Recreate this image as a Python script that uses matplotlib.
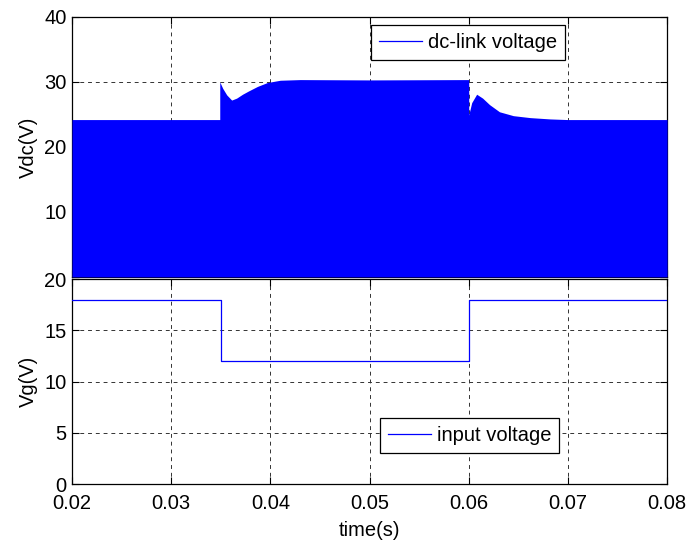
import matplotlib
matplotlib.use("Agg")
import matplotlib.pyplot as plt
from matplotlib.lines import Line2D

plt.rcParams['font.family'] = ['Liberation Sans', 'DejaVu Sans']
plt.rcParams['font.size'] = 14.5

# Upper envelope of the switching dc-link voltage (s, V)
t_dc = [0.02, 0.0349, 0.0349, 0.0352, 0.0356, 0.0361, 0.0366, 0.0372, 0.0378,
        0.0387, 0.0397, 0.041, 0.043, 0.05, 0.06, 0.06, 0.0603, 0.0608,
        0.0614, 0.0621, 0.0631, 0.0645, 0.0662, 0.0682, 0.07, 0.08]
v_dc = [24.2, 24.2, 30.0, 29.0, 28.0, 27.2, 27.5, 28.1, 28.6,
        29.3, 29.9, 30.25, 30.35, 30.3, 30.35, 24.9, 26.8, 28.1,
        27.5, 26.5, 25.4, 24.8, 24.5, 24.3, 24.2, 24.2]

# Input voltage steps (s, V)
t_in = [0.02, 0.035, 0.035, 0.06, 0.06, 0.08]
v_in = [18, 18, 12, 12, 18, 18]

dc_ticks = [0, 10, 20, 30, 40]
in_ticks = [0, 5, 10, 15, 20]
x_ticks = [0.02, 0.03, 0.04, 0.05, 0.06, 0.07, 0.08]
x_labels = ['0.02', '0.03', '0.04', '0.05', '0.06', '0.07', '0.08']

blue = '#0000ff'
grid_kw = dict(color='#333333', linestyle=(0, (4, 4)), linewidth=0.7)
fs = 14.5

fig = plt.figure(figsize=(6.92, 5.44), dpi=100)
L, W = 0.104, 0.860
ax1 = fig.add_axes([L, 0.491, W, 0.478])
ax2 = fig.add_axes([L, 0.110, W, 0.377])

for ax in (ax1, ax2):
    ax.set_xlim(0.02, 0.08)
    ax.set_xticks(x_ticks)
    ax.tick_params(direction='in', top=True, right=True, length=5,
                   width=0.8, labelsize=fs)
    ax.tick_params(axis='x', pad=7)
    ax.tick_params(axis='y', pad=4)
    ax.grid(True, **grid_kw)
    ax.set_axisbelow(True)
    for s in ax.spines.values():
        s.set_linewidth(0.9)

# dc-link voltage: dense switching between 0 and the envelope
ax1.fill_between(t_dc, 0, v_dc, color=blue, linewidth=0, zorder=3)
ax1.set_ylim(0, 40)
ax1.set_yticks(dc_ticks)
ax1.set_yticklabels(['', '10', '20', '30', '40'])
ax1.set_xticklabels([])
ax1.set_ylabel('Vdc(V)', fontsize=fs)
h1 = Line2D([], [], color=blue, linewidth=0.9)
leg1 = ax1.legend([h1], ['dc-link voltage'], loc='upper left',
                  bbox_to_anchor=(0.503, 0.969), borderaxespad=0,
                  fancybox=False, framealpha=1, edgecolor='black',
                  handlelength=2.1, handletextpad=0.3, borderpad=0.4,
                  fontsize=fs)
leg1.get_frame().set_linewidth(0.9)
leg1.set_zorder(5)

# input voltage
ax2.plot(t_in, v_in, color=blue, linewidth=0.9, zorder=3)
ax2.set_ylim(0, 20)
ax2.set_yticks(in_ticks)
ax2.set_xticklabels(x_labels)
ax2.set_ylabel('Vg(V)', fontsize=fs)
ax2.set_xlabel('time(s)', fontsize=fs, labelpad=6)
h2 = Line2D([], [], color=blue, linewidth=0.9)
leg2 = ax2.legend([h2], ['input voltage'], loc='upper left',
                  bbox_to_anchor=(0.518, 0.322), borderaxespad=0,
                  fancybox=False, framealpha=1, edgecolor='black',
                  handlelength=2.1, handletextpad=0.3, borderpad=0.4,
                  fontsize=fs)
leg2.get_frame().set_linewidth(0.9)

ax1.yaxis.set_label_coords(-0.058, 0.5)
ax2.yaxis.set_label_coords(-0.058, 0.5)

fig.savefig('out.png', dpi=100)
